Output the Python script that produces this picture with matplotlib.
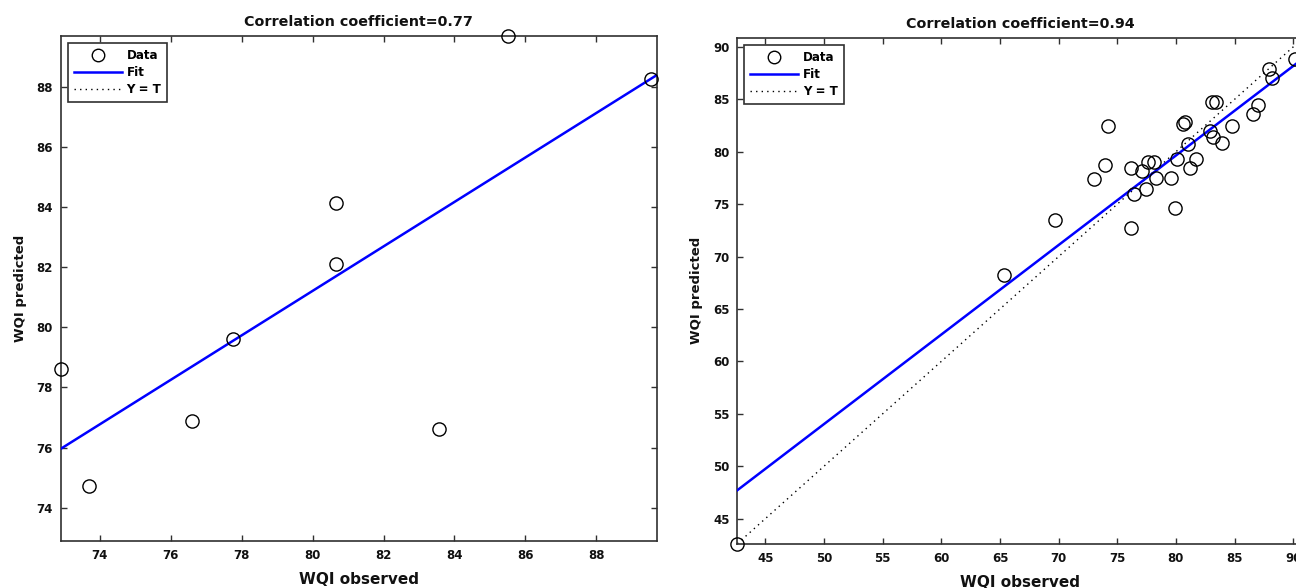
import matplotlib
matplotlib.use("Agg")
import matplotlib.pyplot as plt
from matplotlib.lines import Line2D

plt.rcParams['font.family'] = ['DejaVu Sans']
plt.rcParams['font.weight'] = 'bold'

# ---------------- data ----------------
left_title = "Correlation coefficient=0.77"
left_obs = [72.9, 73.7, 76.59, 77.75, 80.67, 80.67, 83.56, 85.51, 89.53]
left_pred = [78.62, 74.73, 76.89, 79.61, 84.13, 82.10, 76.62, 89.70, 88.26]
left_fit = (0.74, 22.01)          # slope, intercept
left_lim = (72.9, 89.7)
left_ticks = [74, 76, 78, 80, 82, 84, 86, 88]
left_show_yt = False

right_title = "Correlation coefficient=0.94"
right_obs = [42.6, 65.34, 69.67, 72.98, 73.91, 74.22, 76.19, 76.16, 76.45, 77.10,
             77.47, 77.62, 78.10, 78.30, 79.58, 79.92, 80.07, 80.57, 80.74, 81.06,
             81.21, 81.72, 82.94, 83.20, 83.10, 83.43, 83.97, 84.80, 86.53, 86.99,
             87.90, 88.22, 90.12]
right_pred = [42.6, 68.25, 73.47, 77.35, 78.71, 82.47, 72.70, 78.46, 76.00, 78.17,
              76.43, 79.00, 79.00, 77.54, 77.45, 74.61, 79.29, 82.60, 82.80, 80.72,
              78.43, 79.29, 81.99, 81.36, 84.75, 84.70, 80.79, 82.44, 83.58, 84.47,
              87.94, 86.99, 88.83]
right_fit = (0.854, 11.32)
right_lim = (42.6, 90.86)
right_ticks = [45, 50, 55, 60, 65, 70, 75, 80, 85, 90]
right_show_yt = True

x_label = "WQI observed"
y_label = "WQI predicted"
legend_labels = ["Data", "Fit", "Y = T"]

# ---------------- drawing ----------------
W, H = 1296, 588
fig = plt.figure(figsize=(W / 100, H / 100), dpi=100)

ax_l = fig.add_axes([60.7 / W, (H - 540.7) / H, 596.0 / W, 505.0 / H])
ax_r = fig.add_axes([737.3 / W, (H - 543.7) / H, 566.0 / W, 505.8 / H])

spine_col = '#303030'
text_col = '#111111'


def draw(ax, obs, pred, fit, lim, ticks, title, show_yt):
    slope, icpt = fit
    xs = [lim[0], lim[1]]
    ys = [slope * x + icpt for x in xs]
    ax.plot(obs, pred, linestyle='none', marker='o', markersize=9.5,
            markerfacecolor='none', markeredgecolor='black', markeredgewidth=1.0,
            clip_on=False, zorder=4)
    ax.plot(xs, ys, color='#0000ff', linewidth=1.8, zorder=3)
    if show_yt:
        ax.plot(xs, xs, color='black', linewidth=1.0, linestyle=(0, (1, 3)), zorder=2)
    ax.set_xlim(lim)
    ax.set_ylim(lim)
    ax.set_xticks(ticks)
    ax.set_yticks(ticks)
    ax.tick_params(direction='in', length=4.3, width=1, top=True, right=True,
                   colors=spine_col, labelcolor=text_col, labelsize=8.5)
    ax.tick_params(axis='x', pad=6)
    ax.tick_params(axis='y', pad=5.5)
    for lab in ax.get_xticklabels() + ax.get_yticklabels():
        lab.set_fontweight('bold')
    for s in ax.spines.values():
        s.set_color(spine_col)
        s.set_linewidth(1.2)
    ax.set_title(title, fontsize=10.3, fontweight='bold', color=text_col, pad=7)
    ax.set_xlabel(x_label, fontsize=11, fontweight='bold', color=text_col, labelpad=7)
    ax.set_ylabel(y_label, fontsize=9.5, fontweight='bold', color=text_col, labelpad=7)

    handles = [
        Line2D([], [], linestyle='none', marker='o', markersize=9,
               markerfacecolor='none', markeredgecolor='black', markeredgewidth=1.0),
        Line2D([], [], color='#0000ff', linewidth=1.8),
        Line2D([], [], color='black', linewidth=1.0, linestyle=(0, (1, 3))),
    ]
    leg = ax.legend(handles, legend_labels, loc='upper left', fancybox=False,
                    framealpha=1, edgecolor='#303030',
                    borderaxespad=0.6, handlelength=4.0, handletextpad=0.4,
                    labelspacing=0.35, borderpad=0.5,
                    prop={'weight': 'bold', 'size': 8.6})
    leg.get_frame().set_linewidth(1.2)
    leg.set_zorder(10)


draw(ax_l, left_obs, left_pred, left_fit, left_lim, left_ticks, left_title, left_show_yt)
draw(ax_r, right_obs, right_pred, right_fit, right_lim, right_ticks, right_title, right_show_yt)

fig.savefig("out.png", dpi=100)
